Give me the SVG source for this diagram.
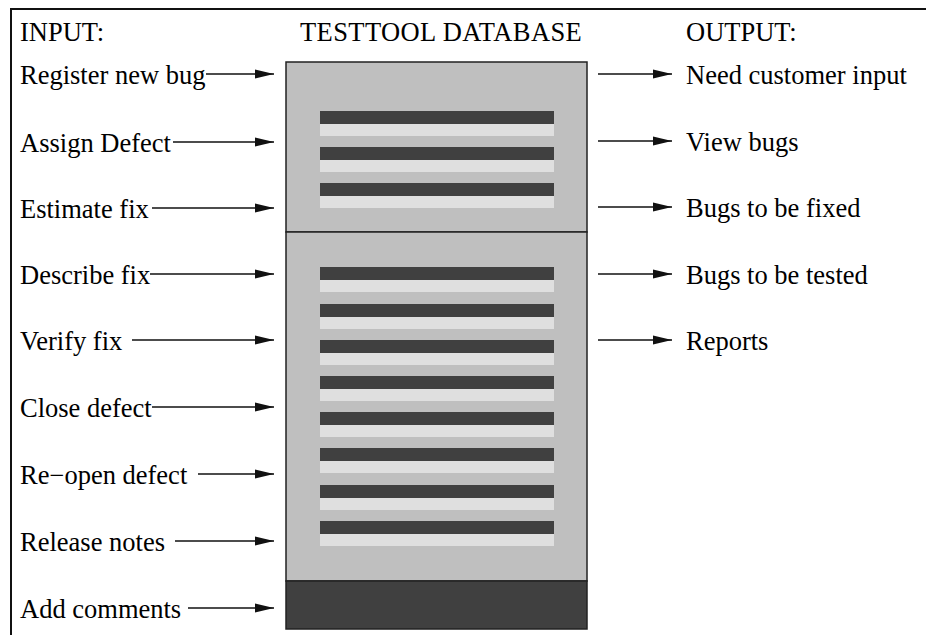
<svg xmlns="http://www.w3.org/2000/svg" width="926" height="635" viewBox="0 0 926 635">
<style>
text{font-family:"Liberation Serif","Times New Roman",serif;font-size:26.5px;fill:#000}
.box{fill:#bfbfbf;stroke:#222;stroke-width:1.5}
.dk{fill:#404040}
.lt{fill:#dfdfdf}
.arr{stroke:#111;stroke-width:1.5;fill:none;marker-end:url(#ah)}
</style>
<defs>
<marker id="ah" markerUnits="userSpaceOnUse" viewBox="0 0 19 10" refX="19" refY="5" markerWidth="19" markerHeight="10" orient="auto">
<path d="M0,0.5 L19,5 L0,9.5 Z" fill="#111"/>
</marker>
<g id="stripe"><rect class="dk" x="320" y="0" width="234" height="13"/><rect class="lt" x="320" y="13" width="234" height="12"/></g>
</defs>
<rect x="11" y="9" width="940" height="650" fill="none" stroke="#111" stroke-width="2"/>
<g id="headers">
<text x="20" y="41">INPUT:</text>
<text x="300" y="41" letter-spacing="0.4">TESTTOOL DATABASE</text>
<text x="686" y="41">OUTPUT:</text>
</g>
<g id="database">
<rect class="box" x="286" y="62" width="301" height="170"/>
<rect class="box" x="286" y="232" width="301" height="349"/>
<rect x="286" y="581" width="301" height="48" fill="#404040" stroke="#222" stroke-width="1.5"/>
<use href="#stripe" y="111"/>
<use href="#stripe" y="147"/>
<use href="#stripe" y="183"/>
<use href="#stripe" y="267"/>
<use href="#stripe" y="304"/>
<use href="#stripe" y="340"/>
<use href="#stripe" y="376"/>
<use href="#stripe" y="412"/>
<use href="#stripe" y="448"/>
<use href="#stripe" y="485"/>
<use href="#stripe" y="521"/>
</g>
<g id="inputs">
<text x="20" y="84">Register new bug</text>
<text x="20" y="152">Assign Defect</text>
<text x="20" y="218">Estimate fix</text>
<text x="20" y="284">Describe fix</text>
<text x="20" y="350">Verify fix</text>
<text x="20" y="417">Close defect</text>
<text x="20" y="484">Re−open defect</text>
<text x="20" y="551">Release notes</text>
<text x="20" y="618">Add comments</text>
</g>
<g id="outputs">
<text x="686" y="84">Need customer input</text>
<text x="686" y="151">View bugs</text>
<text x="686" y="217">Bugs to be fixed</text>
<text x="686" y="284">Bugs to be tested</text>
<text x="686" y="350">Reports</text>
</g>
<g id="connectors">
<line class="arr" x1="206" y1="74" x2="274" y2="74"/>
<line class="arr" x1="173" y1="142" x2="274" y2="142"/>
<line class="arr" x1="152" y1="208" x2="274" y2="208"/>
<line class="arr" x1="150" y1="274" x2="274" y2="274"/>
<line class="arr" x1="132" y1="340" x2="274" y2="340"/>
<line class="arr" x1="152" y1="407" x2="274" y2="407"/>
<line class="arr" x1="198" y1="474" x2="274" y2="474"/>
<line class="arr" x1="175" y1="541" x2="274" y2="541"/>
<line class="arr" x1="188" y1="608" x2="274" y2="608"/>
<line class="arr" x1="598" y1="74" x2="672" y2="74"/>
<line class="arr" x1="598" y1="141" x2="672" y2="141"/>
<line class="arr" x1="598" y1="207" x2="672" y2="207"/>
<line class="arr" x1="598" y1="274" x2="672" y2="274"/>
<line class="arr" x1="598" y1="340" x2="672" y2="340"/>
</g>
</svg>
